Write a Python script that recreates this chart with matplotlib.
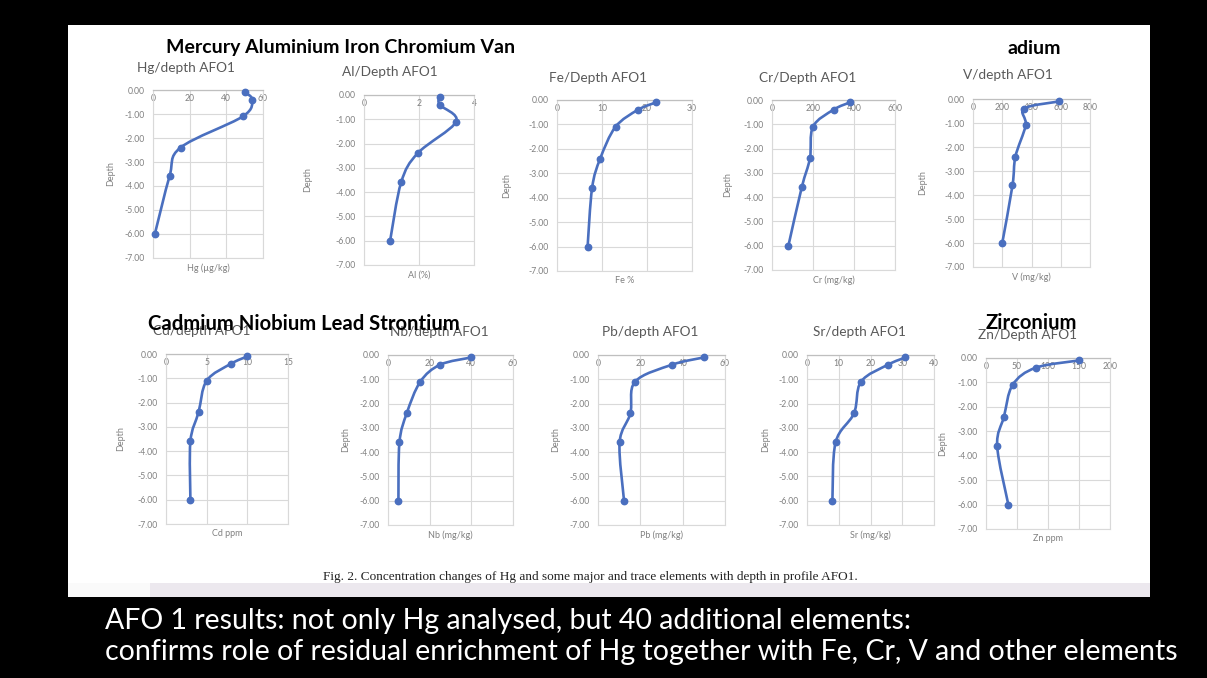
import numpy as np
import matplotlib
matplotlib.use("Agg")
import matplotlib.pyplot as plt
from matplotlib.path import Path
from matplotlib.patches import PathPatch, Rectangle
from matplotlib.ticker import FormatStrFormatter

# ---- data: concentration vs depth, profile AFO1 ----
depth = [-0.1, -0.4, -1.1, -2.4, -3.6, -6.0]
hg = [50, 54, 49, 15, 9, 1]
al = [2.75, 2.75, 3.35, 1.95, 1.35, 0.95]
fe = [22, 18, 13, 9.6, 7.8, 6.8]
cr = [380, 300, 200, 185, 145, 80]
v = [590, 350, 360, 290, 270, 200]
cd = [10, 8, 5, 4, 3, 3]
nb = [40, 25, 15.5, 9, 5.5, 5]
pb = [50, 35, 17.5, 15.3, 10.2, 12.3]
sr = [31, 25.5, 17, 14.8, 9, 8]
zn = [150, 80, 43, 29, 18, 36]

titles = ["Hg/depth AFO1", "Al/Depth AFO1", "Fe/Depth AFO1", "Cr/Depth AFO1", "V/depth AFO1",
          "Cd/depth AFO1", "Nb/depth AFO1", "Pb/depth AFO1", "Sr/depth AFO1", "Zn/Depth AFO1"]
xlabels = ["Hg (µg/kg)", "Al (%)", "Fe %", "Cr (mg/kg)", "V (mg/kg)",
           "Cd ppm", "Nb (mg/kg)", "Pb (mg/kg)", "Sr (mg/kg)", "Zn ppm"]
xmax = [60, 4, 30, 600, 800, 15, 60, 60, 40, 200]
xstep = [20, 2, 10, 200, 200, 5, 20, 20, 10, 50]
series = [hg, al, fe, cr, v, cd, nb, pb, sr, zn]

top_banner = ["Mercury Aluminium Iron Chromium Van", "adium"]
bottom_banner = ["Cadmium Niobium Lead Strontium", "Zirconium"]
caption = ("Fig. 2. Concentration changes of Hg and some major and trace elements "
           "with depth in profile AFO1.")
notes = ["AFO 1 results: not only Hg analysed, but 40 additional elements:",
         "confirms role of residual enrichment of Hg together with Fe, Cr, V and other elements"]

# ---- layout in pixels ----
W, H = 1207, 678
# plot areas: x0, y0, x1, y1
boxes = [
    (153, 90, 263, 258), (364, 95, 474, 265), (557, 100, 692, 271),
    (772, 100, 895, 270), (973, 99, 1090, 267),
    (166, 354, 288, 524), (388, 355, 513, 525), (598, 355, 725, 525),
    (807, 355, 934, 525), (986, 358, 1110, 529),
]
# chart title centres (x, y)
title_pos = [(186, 68), (390, 72), (598, 78), (808, 78), (1008, 75),
             (202, 331), (439, 332), (650, 332), (859, 332), (1028, 335)]
# distance of the "Depth" label from the plot's left edge
ylabel_gap = [38, 52, 46, 40, 46, 41, 38, 38, 37, 39]

BLUE = "#4a6fbf"
GRID = "#d9d9d9"
TXT = "#808080"
CHART_FONT = "Lato"

fig = plt.figure(figsize=(W / 100, H / 100), dpi=100, facecolor="black")


def fx(px):
    return px / W


def fy(py):
    return 1 - py / H


# white page and the faint strip under it
fig.patches.append(Rectangle((fx(68), fy(583)), fx(1150 - 68), (583 - 25) / H,
                             transform=fig.transFigure, facecolor="white",
                             edgecolor="none", zorder=-10))
fig.patches.append(Rectangle((fx(68), fy(597)), fx(1150 - 68), 14 / H,
                             transform=fig.transFigure, facecolor="#ece8ee",
                             edgecolor="none", zorder=-10))
fig.patches.append(Rectangle((fx(68), fy(597)), fx(150 - 68), 14 / H,
                             transform=fig.transFigure, facecolor="#fafafa",
                             edgecolor="none", zorder=-9))


def smooth_curve(ax, xs, ys, x_lim, y_span, wpx, hpx):
    # Catmull-Rom style cubic Bezier through the points, computed in pixel space
    p = np.column_stack([np.asarray(xs, float) / x_lim * wpx,
                         np.asarray(ys, float) / y_span * hpx])
    n = len(p)
    verts = [p[0]]
    codes = [Path.MOVETO]
    for i in range(n - 1):
        p0 = p[i - 1] if i > 0 else p[i]
        p1, p2 = p[i], p[i + 1]
        p3 = p[i + 2] if i + 2 < n else p[i + 1]
        c1 = p1 + (p2 - p0) / 6.0
        c2 = p2 - (p3 - p1) / 6.0
        verts += [c1, c2, p2]
        codes += [Path.CURVE4] * 3
    verts = np.array(verts)
    verts[:, 0] = verts[:, 0] / wpx * x_lim
    verts[:, 1] = verts[:, 1] / hpx * y_span
    ax.add_patch(PathPatch(Path(verts, codes), fill=False, edgecolor=BLUE,
                           lw=1.9, zorder=3, capstyle="round", joinstyle="round"))


for i, (x0, y0, x1, y1) in enumerate(boxes):
    wpx, hpx = x1 - x0, y1 - y0
    ax = fig.add_axes([fx(x0), fy(y1), wpx / W, hpx / H])
    ax.set_facecolor("white")
    ax.set_xlim(0, xmax[i])
    ax.set_ylim(-7, 0)
    ax.set_xticks(np.arange(0, xmax[i] + xstep[i] / 2, xstep[i]))
    ax.set_yticks(np.arange(-7, 0.5, 1))
    ax.yaxis.set_major_formatter(FormatStrFormatter("%.2f"))
    ax.grid(True, color=GRID, lw=0.8)
    ax.set_axisbelow(True)
    for side in ("left", "right", "bottom"):
        ax.spines[side].set_color(GRID)
        ax.spines[side].set_linewidth(0.8)
    ax.spines["top"].set_color("#bfbfbf")
    ax.spines["top"].set_linewidth(0.9)
    ax.xaxis.set_ticks_position("top")
    ax.tick_params(axis="both", length=0, labelsize=6.2, labelcolor=TXT)
    ax.tick_params(axis="x", labeltop=True, labelbottom=False, pad=-9.5)
    ax.tick_params(axis="y", pad=6)
    for lab in ax.get_xticklabels() + ax.get_yticklabels():
        lab.set_fontfamily(CHART_FONT)
    ax.set_ylabel("Depth", fontsize=6.5, color=TXT, family=CHART_FONT)
    ax.yaxis.set_label_coords(-ylabel_gap[i] / wpx, 0.5)
    ax.text(0.5, -0.03, xlabels[i], transform=ax.transAxes, ha="center", va="top",
            fontsize=6.5, color=TXT, family=CHART_FONT)
    tx, ty = title_pos[i]
    fig.text(fx(tx), fy(ty), titles[i], ha="center", va="center",
             fontsize=9.8, color="#595959", family=CHART_FONT)
    smooth_curve(ax, series[i], depth, xmax[i], 7.0, wpx, hpx)
    ax.plot(series[i], depth, "o", ms=4.6, color=BLUE, zorder=4, clip_on=False)

# bold element banners across the chart titles
BANNER = dict(ha="left", va="center", fontweight="bold",
              color="black", family=CHART_FONT)
fig.text(fx(166), fy(48), top_banner[0], fontsize=14, **BANNER)
fig.text(fx(1008), fy(48), top_banner[1], fontsize=14, **BANNER)
fig.text(fx(148), fy(324), bottom_banner[0], fontsize=14.6, **BANNER)
fig.text(fx(986), fy(323), bottom_banner[1], fontsize=14.6, **BANNER)

fig.text(0.5 * (fx(320) + fx(860)), fy(577), caption, ha="center", va="center",
         fontsize=9.5, color="#222222", family="Liberation Serif")

fig.text(fx(105), fy(621), notes[0], ha="left", va="center", fontsize=20.5,
         color="white", family=CHART_FONT)
fig.text(fx(105), fy(652), notes[1], ha="left", va="center", fontsize=20.5,
         color="white", family=CHART_FONT)

fig.savefig("out.png", dpi=100, facecolor="black")
